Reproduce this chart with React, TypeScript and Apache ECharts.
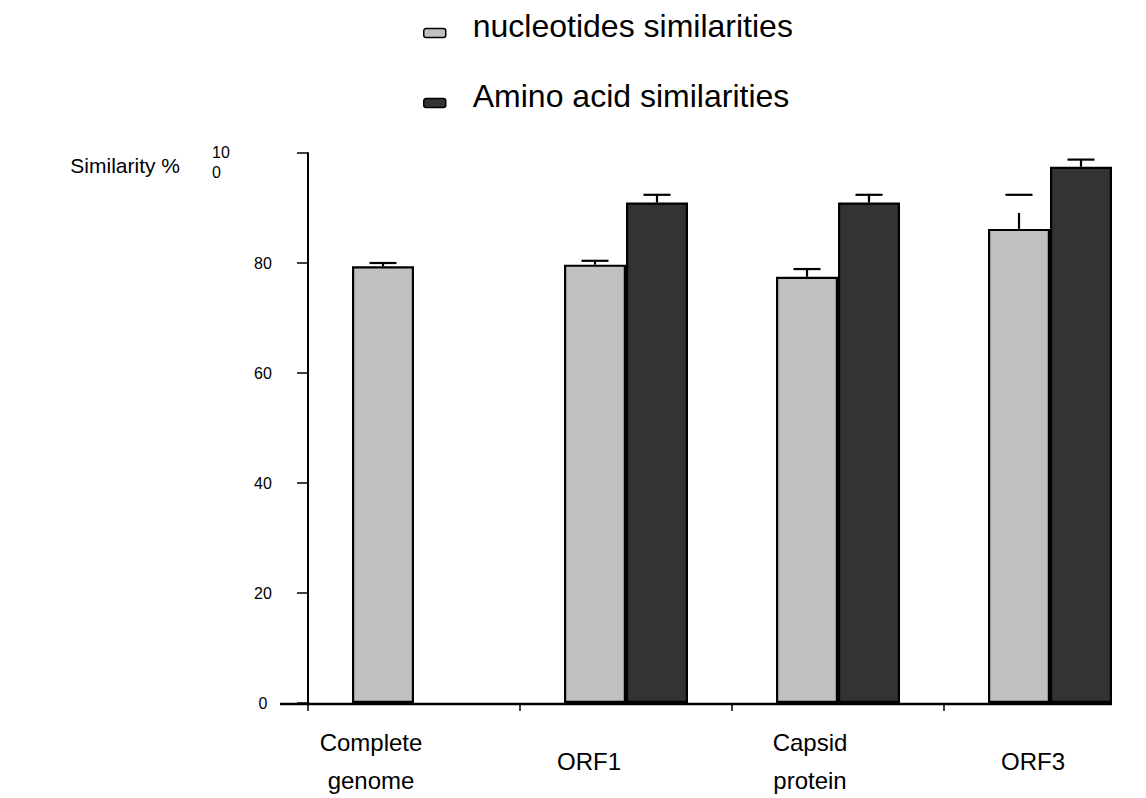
import React, { useEffect, useRef } from "react";
import * as echarts from "echarts";

const categories = ["Complete\ngenome", "ORF1", "Capsid\nprotein", "ORF3"];
const nucleotideValues = [79.4, 79.7, 77.5, 86.2];
const aminoValues: (number | null)[] = [null, 91.0, 91.0, 97.5];
// error bars: stem top and cap position
const nucleotideStemTop = [80.0, 80.4, 78.9, 89.1];
const nucleotideCap = [80.0, 80.4, 78.9, 92.4];
const aminoStemTop: (number | null)[] = [null, 92.4, 92.4, 98.8];
const aminoCap: (number | null)[] = [null, 92.4, 92.4, 98.8];
const yTicks = [0, 20, 40, 60, 80, 100];

const FONT = "'Liberation Sans', Arial, sans-serif";
const BAR_W = 62;

function errData(vals: (number | null)[], stem: (number | null)[], cap: (number | null)[]) {
  const out: any[] = [];
  vals.forEach((v, i) => {
    if (v != null && stem[i] != null && cap[i] != null) out.push([i, v, stem[i], cap[i]]);
  });
  return out;
}

function errSeries(name: string, data: any[], side: number) {
  return {
    type: "custom",
    name,
    silent: true,
    z: 5,
    data,
    encode: { x: 0, y: [1, 2, 3] },
    renderItem: (params: any, api: any) => {
      const idx = api.value(0);
      const p0 = api.coord([idx, api.value(1)]);
      const p1 = api.coord([idx, api.value(2)]);
      const p2 = api.coord([idx, api.value(3)]);
      const x = p0[0] + (side * BAR_W) / 2;
      const st = { stroke: "#000", lineWidth: 2.2 };
      return {
        type: "group",
        children: [
          { type: "line", shape: { x1: x, y1: p0[1], x2: x, y2: p1[1] }, style: st },
          { type: "line", shape: { x1: x - 13.5, y1: p2[1], x2: x + 13.5, y2: p2[1] }, style: st },
        ],
      };
    },
  };
}

export default function App() {
  const ref = useRef<HTMLDivElement>(null);
  useEffect(() => {
    if (!ref.current) return;
    const chart = echarts.init(ref.current, null, { renderer: "svg" });
    const gridLeft = 308;
    const labelPad = [86, 74, 56, 34];
    chart.setOption({
      animation: false,
      backgroundColor: "#fff",
      textStyle: { fontFamily: FONT },
      legend: {
        orient: "vertical",
        left: 423,
        top: 10,
        padding: 0,
        itemWidth: 22,
        itemHeight: 9,
        itemGap: 24,
        data: ["nucleotides similarities", "Amino acid similarities"],
        formatter: (name: string) => `{t|${name}}`,
        textStyle: {
          fontFamily: FONT,
          fontSize: 32,
          color: "#000",
          rich: {
            t: { fontFamily: FONT, fontSize: 32, lineHeight: 32, color: "#000", padding: [0, 0, 14, 22] },
          },
        },
        itemStyle: { borderColor: "#000", borderWidth: 1.5 },
      },
      grid: { left: gridLeft, top: 153, width: 848, height: 550, containLabel: false },
      xAxis: {
        type: "category",
        data: categories,
        axisLine: { show: false },
        axisTick: { show: true, length: 8, lineStyle: { color: "#000", width: 1.5 } },
        axisLabel: {
          interval: 0,
          margin: 58,
          verticalAlign: "middle",
          formatter: (v: string, i: number) =>
            v
              .split("\n")
              .map((l) => `{c${i}|${l}}`)
              .join("\n"),
          rich: Object.fromEntries(
            labelPad.map((p, i) => [
              `c${i}`,
              { fontFamily: FONT, fontSize: 24, color: "#000", lineHeight: 38, padding: [0, p, 0, 0] },
            ])
          ),
        },
      },
      yAxis: {
        type: "value",
        min: 0,
        max: 100,
        interval: 20,
        name: "Similarity %",
        nameLocation: "end",
        nameGap: -12,
        nameTextStyle: {
          fontFamily: FONT,
          fontSize: 21,
          color: "#000",
          align: "right",
          verticalAlign: "middle",
          padding: [0, 128, 0, 0],
        },
        splitLine: { show: false },
        axisLine: { show: true, lineStyle: { color: "#000", width: 2 } },
        axisTick: { show: true, length: 11, lineStyle: { color: "#000", width: 1.5 } },
        axisLabel: {
          margin: 45,
          align: "center",
          fontFamily: FONT,
          fontSize: 16,
          color: "#000",
          formatter: (v: number) => (v === 100 ? "" : String(v)),
        },
      },
      series: [
        {
          name: "nucleotides similarities",
          type: "bar",
          barWidth: BAR_W,
          barGap: "0%",
          data: nucleotideValues,
          itemStyle: { color: "#c0c0c0", borderColor: "#000", borderWidth: 2.2 },
        },
        {
          name: "Amino acid similarities",
          type: "bar",
          barWidth: BAR_W,
          barGap: "0%",
          data: aminoValues,
          itemStyle: { color: "#333333", borderColor: "#000", borderWidth: 2.2 },
        },
        errSeries("nt-err", errData(nucleotideValues, nucleotideStemTop, nucleotideCap), -1),
        errSeries("aa-err", errData(aminoValues, aminoStemTop, aminoCap), 1),
      ],
    });
    const y0 = chart.convertToPixel({ yAxisIndex: 0 }, 0) as number;
    const y100 = chart.convertToPixel({ yAxisIndex: 0 }, yTicks[yTicks.length - 1]) as number;
    const lastX = chart.convertToPixel({ xAxisIndex: 0 }, categories.length - 1) as number;
    chart.setOption({
      graphic: [
        {
          type: "line",
          shape: { x1: gridLeft - 28, y1: y0 + 1, x2: lastX + BAR_W, y2: y0 + 1 },
          style: { stroke: "#000", lineWidth: 2.5 },
          z: 10,
        },
        {
          type: "text",
          left: 212,
          top: y100 - 11,
          style: { text: "10\n0", fontFamily: FONT, fontSize: 16, fill: "#000", lineHeight: 20, textAlign: "left" },
        },
      ],
    });
    return () => chart.dispose();
  }, []);
  return (
    <div
      ref={ref}
      style={{ position: "fixed", left: 0, top: 0, width: 1170, height: 798, overflow: "hidden" }}
    />
  );
}
